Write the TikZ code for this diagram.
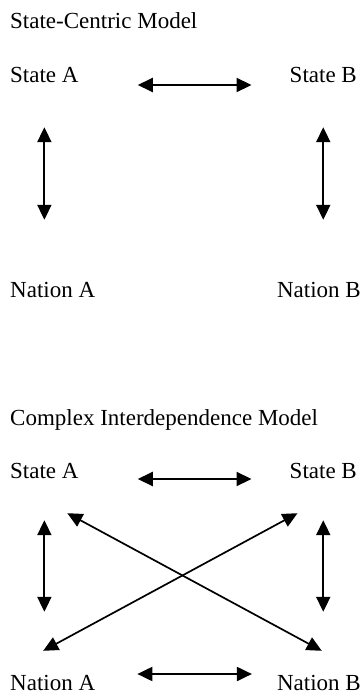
\documentclass[tikz,border=0pt]{standalone}
\usepackage{fontspec}
\setmainfont{Liberation Serif}
\usetikzlibrary{arrows.meta,calc}
\begin{document}
\begin{tikzpicture}[x=1pt, y=-1pt]
	\tikzstyle{Label} = [inner sep=0pt, text height=16pt, text depth=0pt, font=\fontsize{23}{27}\selectfont]
	\tikzstyle{link} = [line width=2pt, {Triangle[length=15pt, width=14pt]}-{Triangle[length=15pt, width=14pt]}]
	\tikzstyle{cross} = [line width=1.7pt, {Triangle[length=15pt, width=14pt]}-{Triangle[length=15pt, width=14pt]}]
	\useasboundingbox (0,0) rectangle (363,695);
	
	% state-centric model
	\node (title1) [Label, anchor=base west] at (10,29) {State-Centric Model};
	\node (sa1) [Label, anchor=base west] at (10,83) {State A};
	\node (sb1) [Label, anchor=base east] at (357,83) {State B};
	\node (na1) [Label, anchor=base west] at (10,297) {Nation A};
	\node (nb1) [Label, anchor=base east] at (361,297) {Nation B};
	
	\draw [link, shorten <=59pt, shorten >=38pt] ([yshift=-10pt]sa1.east) -- ([yshift=-10pt]sb1.west);
	\draw [link, shorten <=44pt, shorten >=61pt] (sa1.south) -- (sa1.south |- na1.north);
	\draw [link, shorten <=44pt, shorten >=61pt] (sb1.south) -- (sb1.south |- nb1.north);
	
	% complex interdependence model
	\node (title2) [Label, anchor=base west] at (10,425) {Complex Interdependence Model};
	\node (sa2) [Label, anchor=base west] at (10,478) {State A};
	\node (sb2) [Label, anchor=base east] at (357,478) {State B};
	\node (na2) [Label, anchor=base west] at (10,690) {Nation A};
	\node (nb2) [Label, anchor=base east] at (361,690) {Nation B};
	
	\draw [link, shorten <=59pt, shorten >=38pt] ([yshift=-9pt]sa2.east) -- ([yshift=-9pt]sb2.west);
	\draw [link, shorten <=42pt, shorten >=25pt] ([yshift=8pt]na2.east) -- ([yshift=8pt]nb2.west);
	\draw [link, shorten <=42pt, shorten >=62pt] (sa2.south) -- (sa2.south |- na2.north);
	\draw [link, shorten <=42pt, shorten >=62pt] (sb2.south) -- (sb2.south |- nb2.north);
	\draw [cross] ($(sa2.south east)+(-11.4,35)$) -- ($(nb2.north)+(2.8,-23)$);
	\draw [cross] ($(sb2.south west)+(8,35)$) -- ($(na2.north)+(-9.5,-23)$);
\end{tikzpicture}
\end{document}
